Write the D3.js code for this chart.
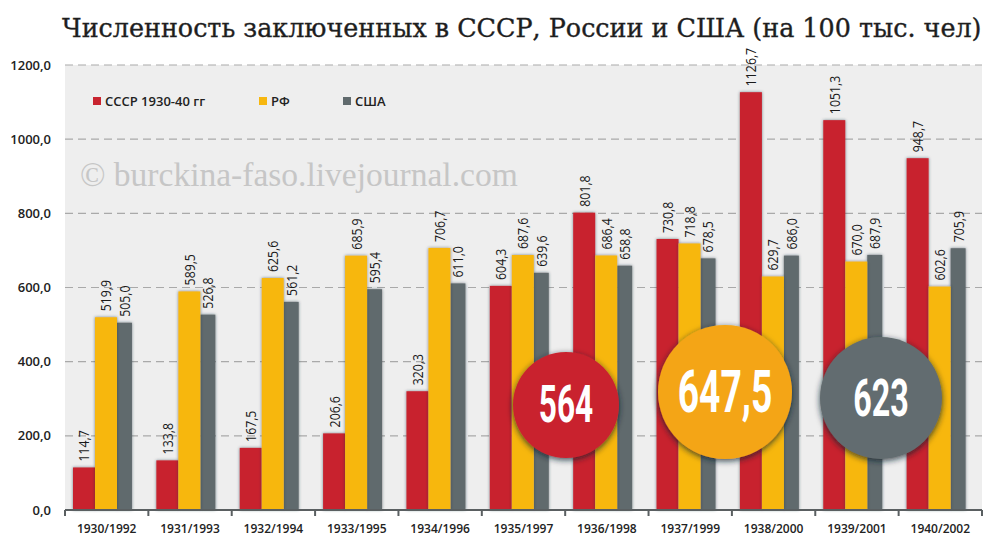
<!DOCTYPE html>
<html>
<head>
<meta charset="utf-8">
<script src="https://cdn.jsdelivr.net/npm/d3@7"></script>
<style>
  body { margin:0; background:#fff; }
  svg { display:block; }
</style>
</head>
<body>
<svg id="chart" width="1000" height="544"></svg>
<script>
// data
var categories = ["1930/1992","1931/1993","1932/1994","1933/1995","1934/1996","1935/1997","1936/1998","1937/1999","1938/2000","1939/2001","1940/2002"];
var ussrValues = [114.7,133.8,167.5,206.6,320.3,604.3,801.8,730.8,1126.7,1051.3,948.7];
var rfValues   = [519.9,589.5,625.6,685.9,706.7,687.6,686.4,718.8,629.7,670.0,602.6];
var usaValues  = [505.0,526.8,561.2,595.4,611.0,639.6,658.8,678.5,686.0,687.9,705.9];
var seriesNames = ["СССР 1930-40 гг","РФ","США"];
var averageValues = ["564","647,5","623"];
var yTicks = [0,200,400,600,800,1000,1200];

var colors = {ussr:"#c8242f", rf:"#f7b70f", usa:"#606a6d"};
var circleColors = ["#c9232f","#f4a517","#626c6f"];

var fmt = function(v){ return v.toFixed(1).replace(".", ","); };

var svg = d3.select("#chart");
var plotL = 65, plotR = 982, plotT = 65, plotB = 510;

var defs = svg.append("defs");
var f1 = defs.append("filter").attr("id","barShadow").attr("x","-30%").attr("y","-10%").attr("width","160%").attr("height","120%");
f1.append("feDropShadow").attr("dx",0).attr("dy",0).attr("stdDeviation",1.6).attr("flood-color","#1d3440").attr("flood-opacity",0.6);
var f2 = defs.append("filter").attr("id","circShadow").attr("x","-30%").attr("y","-30%").attr("width","160%").attr("height","160%");
f2.append("feDropShadow").attr("dx",0).attr("dy",2).attr("stdDeviation",3).attr("flood-color","#10242c").attr("flood-opacity",0.8);

// fit a text to a given width by changing its font size
function fitText(sel, baseSize, width){
  var len = sel.node().getComputedTextLength();
  sel.style("font-size", (baseSize * width / len).toFixed(2) + "px");
}

// title
var title = svg.append("text")
  .attr("x",62).attr("y",37)
  .style("font-family","'DejaVu Serif', serif").style("font-size","27px")
  .style("fill","#1e1e1e").style("stroke","#1e1e1e").style("stroke-width",0.35)
  .text("Численность заключенных в СССР, России и США (на 100 тыс. чел)");
fitText(title, 27, 920);

// plot background
svg.append("rect").attr("x",plotL).attr("y",plotT).attr("width",plotR-plotL).attr("height",plotB-plotT).attr("fill","#eeeeee");

var x = d3.scaleBand().domain(categories).range([plotL,plotR]).paddingInner(0).paddingOuter(0);
var y = d3.scaleLinear().domain([0,1200]).range([plotB,plotT]);
var xInner = d3.scaleBand().domain(["ussr","rf","usa"]).range([8,74]);

// grid
svg.append("g").selectAll("line").data(yTicks.filter(function(d){return d>0;})).enter().append("line")
  .attr("x1",plotL).attr("x2",plotR)
  .attr("y1",function(d){return y(d);}).attr("y2",function(d){return y(d);})
  .attr("stroke","#a9a9a9").attr("stroke-width",1.2).attr("stroke-dasharray","8,5");

// watermark
var wm = svg.append("text").attr("x",80).attr("y",186)
  .style("font-family","'Liberation Serif', serif").style("font-size","29px").style("fill","#c6c6c6")
  .text("© burckina-faso.livejournal.com");
fitText(wm, 29, 438);

// y axis labels
svg.append("g").selectAll("text").data(yTicks).enter().append("text")
  .attr("x",51).attr("y",function(d){return y(d);}).attr("dy","0.35em")
  .attr("text-anchor","end")
  .style("font-family","'Open Sans', sans-serif").style("font-size","13px").style("font-weight",600).style("fill","#222")
  .text(function(d){return fmt(d);});

// bars
var series = [
  {key:"usa", values:usaValues},
  {key:"ussr", values:ussrValues},
  {key:"rf", values:rfValues}
];
series.forEach(function(s){
  var w = s.key === "usa" ? xInner.bandwidth()*0.68 : xInner.bandwidth();
  svg.append("g").attr("filter","url(#barShadow)").selectAll("rect").data(s.values).enter().append("rect")
    .attr("x",function(d,i){return x(categories[i]) + xInner(s.key);})
    .attr("y",function(d){return y(d);})
    .attr("width",w)
    .attr("height",function(d){return plotB - y(d);})
    .attr("fill",colors[s.key]);
  svg.append("g").selectAll("text").data(s.values).enter().append("text")
    .attr("transform",function(d,i){
      var cx = x(categories[i]) + xInner(s.key) + w/2;
      return "translate(" + cx + "," + (y(d) - 6) + ") rotate(-90) scale(0.82,1)";
    })
    .attr("dy","0.36em")
    .style("font-family","'Open Sans', sans-serif")
    .style("font-size","15px")
    .style("fill","#1a1a1a")
    .text(function(d){return fmt(d);});
});

// x axis
svg.append("line").attr("x1",plotL).attr("x2",plotR).attr("y1",plotB).attr("y2",plotB)
  .attr("stroke","#5a5f61").attr("stroke-width",2);
var boundaries = categories.map(function(c){return x(c);}).concat([plotR]);
svg.append("g").selectAll("line").data(boundaries).enter().append("line")
  .attr("x1",function(d){return d;}).attr("x2",function(d){return d;})
  .attr("y1",plotB).attr("y2",plotB+6)
  .attr("stroke","#5a5f61").attr("stroke-width",2);
svg.append("g").selectAll("text").data(categories).enter().append("text")
  .attr("x",function(d){return x(d) + x.bandwidth()/2;}).attr("y",533)
  .attr("text-anchor","middle")
  .style("font-family","'Open Sans', sans-serif").style("font-size","12px").style("font-weight",600).style("fill","#222")
  .text(function(d){return d;});

// legend
var legendX = [93,259,343];
var legendKeys = ["ussr","rf","usa"];
var lg = svg.append("g");
seriesNames.forEach(function(n,i){
  lg.append("rect").attr("x",legendX[i]).attr("y",97).attr("width",8).attr("height",8).attr("fill",colors[legendKeys[i]]);
  lg.append("text").attr("x",legendX[i]+12).attr("y",101).attr("dy","0.36em")
    .style("font-family","'Open Sans', sans-serif").style("font-size","13px").style("font-weight",600).style("fill","#222")
    .text(n);
});

// average circles
var circleLayout = [
  {cx:566, cy:405, r:53, fs:51, ty:404},
  {cx:725, cy:392, r:67, fs:60, ty:390},
  {cx:881, cy:398, r:61, fs:52, ty:397}
];
averageValues.forEach(function(v,i){
  var c = circleLayout[i];
  svg.append("circle").attr("cx",c.cx).attr("cy",c.cy).attr("r",c.r)
    .attr("fill",circleColors[i]).attr("filter","url(#circShadow)");
  svg.append("text")
    .attr("transform","translate(" + c.cx + "," + c.ty + ") scale(0.62,1)")
    .attr("text-anchor","middle").attr("dy","0.36em")
    .style("font-family","Roboto, sans-serif").style("font-size",c.fs + "px").style("font-weight",700).style("fill","#fff")
    .text(v);
});
</script>
</body>
</html>
